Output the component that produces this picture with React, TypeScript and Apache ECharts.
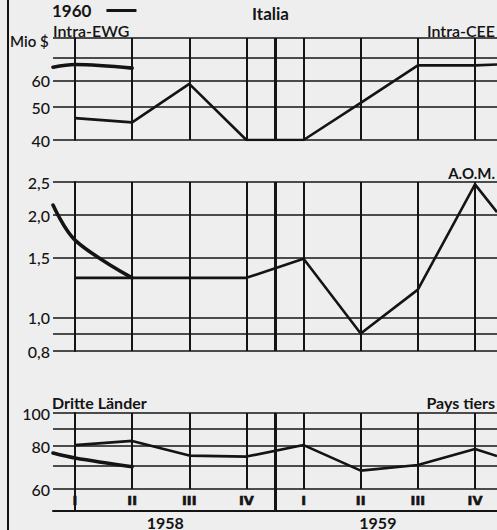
import React, { useEffect, useRef } from 'react';
import * as echarts from 'echarts';

// ---- data ----
const quarters = ['I', 'II', 'III', 'IV', 'I', 'II', 'III', 'IV'];
const quarterPos = [0, 1, 2, 3, 4, 5, 6, 7];
const years = ['1958', '1959'];
const yearSplit = 3.5;
const edgeLeft = -0.385;
const edgeRight = 7.385;

// thin line: I58..IV59 + continuation at right edge
const intraValues = [46.4, 45.1, 58.6, 40, 40, 51.5, 66.4, 66.4, 66.8];
const aomValues = [1.31, 1.31, 1.31, 1.31, 1.49, 0.9, 1.21, 2.46, 2.04];
const drittValues = [80.6, 82.9, 75.1, 74.6, 80.6, 67.9, 70.5, 78.5, 74.9];
// 1960 line: left edge, I, II
const intra1960 = [65.6, 66.8, 65.2];
const aom1960 = [2.14, 1.69, 1.31];
const dritt1960 = [76.4, 73.9, 69.7];

const intraGridVals = [80, 70, 60, 50, 40];
const intraTickVals = [60, 50, 40];
const aomGridVals = [2.5, 2.0, 1.5, 1.0, 0.9, 0.8];
const aomTickVals = [2.5, 2.0, 1.5, 1.0, 0.8];
const drittGridVals = [100, 90, 80, 70, 60];
const drittTickVals = [100, 80, 60];

const FONT = 'Lato, "Open Sans", sans-serif';
const INK = '#141414';

const thinX = [...quarterPos, edgeRight];
const thickX = [edgeLeft, quarterPos[0], quarterPos[1]];

function markLines(gridVals: number[], tickVals: number[], fmt: (v: number) => string) {
  const h = gridVals.map((v) => ({
    yAxis: v,
    label: {
      show: tickVals.includes(v),
      formatter: fmt(v),
    },
  }));
  const v = quarterPos.map((q) => ({ xAxis: q, label: { show: false }, lineStyle: { width: 2, color: INK, type: 'solid' } }));
  const sep = { xAxis: yearSplit, label: { show: false }, lineStyle: { width: 3, color: INK, type: 'solid' } };
  return {
    silent: true,
    symbol: 'none',
    animation: false,
    lineStyle: { color: INK, width: 1.7, type: 'solid' },
    label: {
      position: 'start',
      distance: 3,
      color: INK,
      fontFamily: FONT,
      fontSize: 16,
      fontWeight: 500,
    },
    emphasis: { disabled: true },
    data: [...h, ...v, sep],
  };
}

export default function App() {
  const ref = useRef<HTMLDivElement>(null);
  useEffect(() => {
    if (!ref.current) return;
    const chart = echarts.init(ref.current, null, { renderer: 'svg' });
    const grids = [
      { left: 53, right: 0, top: 38, height: 102 },
      { left: 53, right: 0, top: 182, height: 169 },
      { left: 53, right: 0, top: 413, height: 76 },
      { left: 53, right: 0, top: 489, height: 25 },
    ];
    const xAxes: any[] = [0, 1, 2].map((i) => ({
      type: 'value',
      gridIndex: i,
      min: edgeLeft,
      max: edgeRight,
      show: false,
    }));
    // band bottom line and years
    xAxes.push({
      type: 'value',
      gridIndex: 3,
      position: 'bottom',
      min: edgeLeft,
      max: edgeRight,
      show: true,
      axisLine: { show: true, lineStyle: { color: INK, width: 2 } },
      axisTick: { show: false },
      splitLine: { show: false },
      axisLabel: {
        show: true,
        showMinLabel: true,
        showMaxLabel: true,
        customValues: [1.58, 5.3],
        formatter: (v: number) => (v < yearSplit ? years[0] : years[1]),
        margin: 3,
        color: INK,
        fontFamily: FONT,
        fontSize: 16,
        fontWeight: 'bold',
      },
    });
    const yRanges = [
      [40, 80],
      [0.8, 2.5],
      [60, 100],
    ];
    const yAxes: any[] = yRanges.map((r, i) => ({
      type: 'log',
      logBase: 10,
      gridIndex: i,
      min: r[0],
      max: r[1],
      axisLine: { show: true, lineStyle: { color: INK, width: 2 } },
      axisTick: { show: false },
      axisLabel: { show: false },
      splitLine: { show: false },
    }));
    yAxes.push({
      type: 'value',
      gridIndex: 3,
      min: 0,
      max: 1,
      axisLine: { show: true, lineStyle: { color: INK, width: 2 } },
      axisTick: { show: false },
      axisLabel: { show: false },
      splitLine: { show: false },
    });

    const thin = (i: number, vals: number[], ml: any) => ({
      type: 'line',
      name: 'Quartale',
      xAxisIndex: i,
      yAxisIndex: i,
      data: vals.map((v, k) => [thinX[k], v]),
      symbol: 'none',
      lineStyle: { color: INK, width: 2.6 },
      itemStyle: { color: INK },
      z: 4,
      markLine: ml,
    });
    const thick = (i: number, vals: number[]) => ({
      type: 'line',
      name: '1960',
      xAxisIndex: i,
      yAxisIndex: i,
      data: vals.map((v, k) => [thickX[k], v]),
      symbol: 'none',
      smooth: 0.35,
      lineStyle: { color: INK, width: 3.6, cap: 'round', join: 'round' },
      itemStyle: { color: INK },
      z: 5,
    });

    const titleStyle = (size: number, weight: any) => ({
      color: INK,
      fontFamily: FONT,
      fontSize: size,
      fontWeight: weight,
      lineHeight: size,
    });

    chart.setOption({
      animation: false,
      backgroundColor: '#eeeeee',
      title: [
        { text: 'Italia', left: 252, top: 5, padding: 0, textStyle: titleStyle(17, 'bold') },
        { text: 'Intra-EWG', left: 53, top: 22, padding: 0, textStyle: titleStyle(16, 600) },
        { text: 'Intra-CEE', right: 2, top: 22, padding: 0, textStyle: titleStyle(16, 600) },
        { text: 'Mio $', left: 10, top: 33, padding: 0, textStyle: titleStyle(15, 600) },
        { text: 'A.O.M.', right: 2, top: 165, padding: 0, textStyle: titleStyle(15, 'bold') },
        { text: 'Dritte Länder', left: 52, top: 394, padding: 0, textStyle: titleStyle(16, 'bold') },
        { text: 'Pays tiers', right: 2, top: 394, padding: 0, textStyle: titleStyle(16, 'bold') },
      ],
      legend: {
        left: 52,
        top: 2,
        padding: 0,
        align: 'right',
        selectedMode: false,
        itemWidth: 30,
        itemHeight: 3,
        data: [{ name: '1960', icon: 'rect' }],
        textStyle: { ...titleStyle(17, 'bold'), padding: [0, 10, 0, 0] },
      },
      grid: grids,
      xAxis: xAxes,
      yAxis: yAxes,
      series: [
        thin(0, intraValues, markLines(intraGridVals, intraTickVals, (v) => String(v))),
        thick(0, intra1960),
        thin(1, aomValues, markLines(aomGridVals, aomTickVals, (v) => v.toFixed(1).replace('.', ','))),
        thick(1, aom1960),
        thin(2, drittValues, markLines(drittGridVals, drittTickVals, (v) => String(v))),
        thick(2, dritt1960),
        {
          type: 'scatter',
          name: 'band',
          xAxisIndex: 3,
          yAxisIndex: 3,
          data: [],
          silent: true,
          markLine: {
            silent: true,
            symbol: 'none',
            label: { show: false },
            lineStyle: { color: INK, width: 3, type: 'solid' },
            data: [{ xAxis: yearSplit }],
          },
        },
      ],
    });

    // quarter labels placed through the band grid's own scale
    const labelEls = quarters.map((q, i) => {
      const p = chart.convertToPixel({ gridIndex: 3 }, [quarterPos[i], 0.5]) as number[];
      return {
        type: 'text',
        x: p[0],
        y: p[1],
        z: 100,
        silent: true,
        style: {
          text: q,
          fill: INK,
          stroke: INK,
          lineWidth: 0.6,
          opacity: 1,
          font: 'bold 13px "DejaVu Sans", sans-serif',
          align: 'center',
          verticalAlign: 'middle',
        },
      };
    });
    chart.setOption({
      graphic: [
        { type: 'line', silent: true, shape: { x1: 8, y1: 0, x2: 8, y2: 530 }, style: { stroke: INK, lineWidth: 2 } },
        ...labelEls,
      ],
    });
    return () => chart.dispose();
  }, []);
  return (
    <div
      ref={ref}
      style={{ position: 'fixed', left: 0, top: 0, width: 497, height: 530 }}
    />
  );
}
